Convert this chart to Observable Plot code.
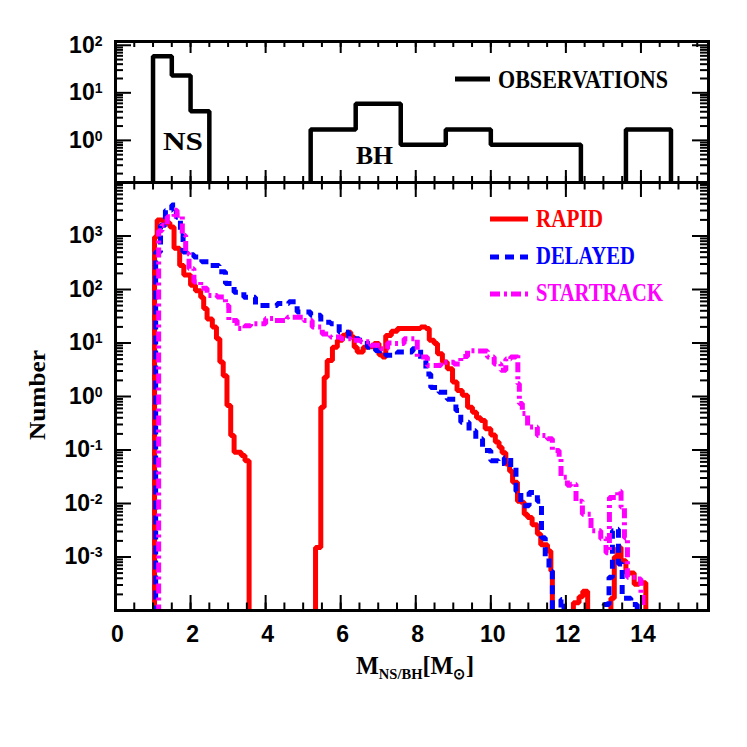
<!DOCTYPE html>
<html><head><meta charset="utf-8">
<script src="https://cdn.jsdelivr.net/npm/d3@7"></script>
<script src="https://cdn.jsdelivr.net/npm/@observablehq/plot@0.6"></script>
<style>
html,body{margin:0;padding:0;background:#fff;}
#chart{position:relative;width:747px;height:747px;background:#fff;}
#chart svg{position:absolute;left:0;top:0;}
</style></head><body><div id="chart"></div>
<script>
// ---------- data (bin left edges; the last edge closes the histogram, count 0 = empty bin) ----------
const obsEdges  = [1.0, 1.5, 2.0, 2.5, 5.2, 6.4, 7.6, 8.8, 10.0, 11.2, 12.4, 13.6, 14.8];
const obsCounts = [59, 23, 4.1, 0, 1.7, 5.9, 0.81, 1.7, 0.81, 0.81, 0, 1.7, 0];

const rapidEdges = [1.04,1.11,1.29,1.45,1.56,1.71,1.82,2.00,2.13,2.27, 2.35,2.44,2.58,2.69,2.78,2.87,2.97,3.07,3.16,3.35,
  3.45,3.56,5.33,5.47,5.56,5.64,5.78,5.91,6.05,6.18, 6.27,6.36,6.44,6.60,6.71,6.89,7.02,7.11,7.20,7.35,
  7.51,7.87,8.13,8.27,8.36,8.49,8.58,8.71,8.84,8.98, 9.10,9.24,9.38,9.51,9.62,9.73,9.85,10.00,10.12,10.22,
  10.30,10.40,10.50,10.58,10.71,10.80,10.89,10.98,11.10,11.24, 11.33,11.51,11.60,11.64,12.20,12.35,12.45,12.58,13.20,13.29,
  13.38,13.47,13.60,13.82,13.95,14.13];
const rapidCounts = [955,1995,1778,1479,589,282,186,120,95,72, 44,28,20,12,4.4,2.45,0.68,0.186,0.091,0.079,
  0.063,0,0.0015,0.63,2.3,4.7,8.3,11.2,14,15.8, 12.9,8.3,6.8,8.3,8.5,9.8,6.0,5.5,13.8,16.6,
  18.6,18.6,20,18.6,11.2,9.8,6.3,4.4,3.3,1.86, 1.29,1.05,0.63,0.51,0.40,0.355,0.25,0.19,0.141,0.112,
  0.089,0.055,0.040,0.025,0.011,0.0105,0.0063,0.0055,0.004,0.0027, 0.0017,0.0013,0.00055,0,0.00014,0.00018,0.00023,0,0.00017,0.001,
  0.0015,0.00085,0.0005,0.00031,0.00033,0];

const delayedEdges = [1.07,1.20,1.33,1.50,1.62,1.73,1.80,1.90,2.09,2.30, 2.49,2.76,2.93,3.16,3.42,3.73,4.00,4.31,4.62,4.84,
  5.20,5.47,5.73,5.96,6.22,6.49,6.71,6.93,7.20,7.51, 7.91,8.13,8.27,8.40,8.62,8.84,9.07,9.20,9.42,9.60,
  9.78,10.00,10.20,10.36,10.53,10.67,10.80,11.02,11.24,11.35, 11.45,11.55,11.64,11.87,11.95,13.02,13.15,13.24,13.33,13.40,
  13.50,13.73,13.90];
const delayedCounts = [501,1585,3020,3802,2239,1023,501,447,407,331, 282,214,129,89,72,50,50,55,59,38,
  33,24.5,22.9,15.8,12,11.2,8.3,7.2,5.9,6.8, 7.8,4.7,2.63,1.48,1.2,0.89,0.55,0.33,0.23,0.162,
  0.098,0.063,0.056,0.072,0.048,0.017,0.0091,0.016,0.011,0.0023, 0.001,0.00055,0,0.00016,0,0.00013,0.00042,0.0031,0.0033,0.00074,
  0.00017,0.00013,0];

const startrackEdges = [1.15,1.24,1.38,1.56,1.64,1.78,1.87,1.96,2.09,2.27, 2.44,2.71,2.93,3.02,3.24,3.45,3.60,4.00,4.22,4.58,
  4.84,5.02,5.24,5.51,5.73,6.00,6.27,6.53,6.80,7.07, 7.25,7.42,7.69,8.04,8.31,8.67,9.02,9.20,9.38,9.65,
  9.91,10.09,10.27,10.40,10.53,10.67,10.72,10.76,10.84,10.98, 11.24,11.51,11.64,11.82,11.87,12.04,12.13,12.27,12.44,12.67,
  12.93,13.07,13.16,13.38,13.47,13.56,13.64,13.91,14.00,14.05];
const startrackCounts = [1259,1585,2291,3020,2455,1023,468,245,138,105, 77.6,72.4,50,26.3,18.6,20.9,22.9,28.8,26.3,30.2,
  30.2,26.3,20,14.8,12.9,12,11.2,10.5,9.1,7.8, 10,9.8,12,5.5,3.8,4.37,4.07,5.6,7.2,7.1,
  5.5,4.07,3.09,5.0,5.5,6.3,1.74,0.74,0.48,0.27, 0.186,0.162,0.098,0.072,0.031,0.022,0.023,0.011,0.0063,0.0031,
  0.0022,0.0012,0.013,0.017,0.0085,0.0023,0.00042,0.00039,0.0002,0];

const xTickLabels = [0, 2, 4, 6, 8, 10, 12, 14];
const yTickLabelsTop = [1, 10, 100];
const yTickLabelsBottom = [1e-3, 1e-2, 1e-1, 1, 10, 100, 1000];

// ---------- helpers ----------
function histPoints(edges, counts, floor) {
  const pts = [{x: edges[0], v: floor}];
  edges.forEach((e, i) => pts.push({x: e, v: counts[i] > 0 ? counts[i] : floor}));
  return pts;
}
function logTicks(lo, hi) {
  const major = [], minor = [];
  for (let e = Math.floor(Math.log10(lo)); e <= Math.ceil(Math.log10(hi)); e++) {
    for (let k = 1; k <= 9; k++) {
      const v = k * Math.pow(10, e);
      if (v < lo * 0.999 || v > hi * 1.001) continue;
      (k === 1 ? major : minor).push(v);
    }
  }
  return {major, minor};
}
function frameTicks(xDomain, yDomain, innerW, innerH, xLen, yLen) {
  const xMajor = d3.range(xDomain[0], xDomain[1] + 1e-9, 2);
  const xMinor = d3.range(xDomain[0], xDomain[1] + 1e-9, 0.5);
  const {major: yMajor, minor: yMinor} = logTicks(yDomain[0], yDomain[1]);
  const s = {stroke: "black", strokeWidth: 2};
  return [
    Plot.ruleX(xMinor, {...s, insetTop: innerH - xLen[1]}),
    Plot.ruleX(xMinor, {...s, insetBottom: innerH - xLen[1]}),
    Plot.ruleX(xMajor, {...s, insetTop: innerH - xLen[0]}),
    Plot.ruleX(xMajor, {...s, insetBottom: innerH - xLen[0]}),
    Plot.ruleY(yMinor, {...s, insetRight: innerW - yLen[1]}),
    Plot.ruleY(yMinor, {...s, insetLeft: innerW - yLen[1]}),
    Plot.ruleY(yMajor, {...s, insetRight: innerW - yLen[0]}),
    Plot.ruleY(yMajor, {...s, insetLeft: innerW - yLen[0]})
  ];
}
const NS = "http://www.w3.org/2000/svg";
function superscripts(svg) {
  svg.querySelectorAll('g[aria-label="y-axis tick label"] text').forEach(t => {
    const e = t.textContent;
    t.textContent = "";
    const a = document.createElementNS(NS, "tspan"); a.textContent = "10";
    const b = document.createElementNS(NS, "tspan"); b.textContent = e;
    b.setAttribute("dy", "-7"); b.setAttribute("font-size", "14px");
    t.append(a, b);
  });
}

// ---------- layout ----------
const W = 747, L = 115, R = 39;
const X_DOMAIN = [0, 15.8];
const TOP = {top: 41, bottom: 182, domain: [0.13, 120]};
const BOT = {top: 182, bottom: 610, domain: [1e-4, 1e4]};
const innerW = W - L - R;
const fontStyle = {background: "transparent", fontFamily: "Liberation Sans", fontSize: "23px", fontWeight: "bold", color: "black"};
const axisFont = {fontFamily: "Liberation Sans", fontSize: 23, fontWeight: "bold"};

const topPlot = Plot.plot({
  width: W, height: W,
  marginLeft: L, marginRight: R, marginTop: TOP.top, marginBottom: W - TOP.bottom,
  style: fontStyle,
  x: {domain: X_DOMAIN, label: null, axis: null},
  y: {type: "log", domain: TOP.domain, label: null},
  marks: [
    Plot.line(histPoints(obsEdges, obsCounts, 1e-3), {x: "x", y: "v", curve: "step-after", stroke: "black", strokeWidth: 4.5, strokeLinejoin: "miter", strokeLinecap: "butt", clip: true}),
    ...frameTicks(X_DOMAIN, TOP.domain, innerW, TOP.bottom - TOP.top, [12, 6], [16, 8]),
    Plot.frame({stroke: "black", strokeWidth: 3}),
    Plot.axisY({ticks: yTickLabelsTop, tickSize: 0, tickPadding: 13, label: null, tickFormat: d => String(Math.round(Math.log10(d))), ...axisFont})
  ]
});

const lineOpts = {x: "x", y: "v", curve: "step-after", strokeWidth: 5, strokeLinejoin: "miter", strokeLinecap: "butt", clip: true};
const botPlot = Plot.plot({
  width: W, height: W,
  marginLeft: L, marginRight: R, marginTop: BOT.top, marginBottom: W - BOT.bottom,
  style: fontStyle,
  x: {domain: X_DOMAIN, label: null},
  y: {type: "log", domain: BOT.domain, label: null},
  marks: [
    Plot.line(histPoints(rapidEdges, rapidCounts, 1e-8), {...lineOpts, stroke: "#ff0000"}),
    Plot.line(histPoints(delayedEdges, delayedCounts, 1e-8), {...lineOpts, stroke: "#0000ff", strokeDasharray: "9,6"}),
    Plot.line(histPoints(startrackEdges, startrackCounts, 1e-8), {...lineOpts, stroke: "#ff00ff", strokeDasharray: "10,4,3,4"}),
    ...frameTicks(X_DOMAIN, BOT.domain, innerW, BOT.bottom - BOT.top, [15, 7.5], [16, 8]),
    Plot.frame({stroke: "black", strokeWidth: 3}),
    Plot.axisX({ticks: xTickLabels, tickSize: 0, tickPadding: 15, dx: 2, label: null, ...axisFont}),
    Plot.axisY({ticks: yTickLabelsBottom, tickSize: 0, tickPadding: 13, label: null, tickFormat: d => String(Math.round(Math.log10(d))), ...axisFont})
  ]
});
superscripts(topPlot);
superscripts(botPlot);

const chart = document.getElementById("chart");
chart.append(topPlot, botPlot);

// ---------- text, annotations and legends ----------
const overlay = document.createElementNS(NS, "svg");
overlay.setAttribute("width", W); overlay.setAttribute("height", W);
overlay.setAttribute("font-family", "Liberation Serif");
overlay.setAttribute("font-weight", "bold");
overlay.innerHTML = `
<line x1="455" x2="490" y1="79" y2="79" stroke="black" stroke-width="5"/>
<text x="498" y="88" font-size="25" textLength="170" lengthAdjust="spacingAndGlyphs">OBSERVATIONS</text>
<text x="163" y="150" font-size="26" textLength="40" lengthAdjust="spacingAndGlyphs">NS</text>
<text x="356" y="164" font-size="26" textLength="37" lengthAdjust="spacingAndGlyphs">BH</text>
<line x1="490" x2="528" y1="219" y2="219" stroke="#ff0000" stroke-width="5"/>
<text x="536" y="227" font-size="25" fill="#ff0000" textLength="67" lengthAdjust="spacingAndGlyphs">RAPID</text>
<line x1="490" x2="528" y1="257" y2="257" stroke="#0000ff" stroke-width="5" stroke-dasharray="9,6"/>
<text x="536" y="264" font-size="25" fill="#0000ff" textLength="99" lengthAdjust="spacingAndGlyphs">DELAYED</text>
<line x1="490" x2="528" y1="294" y2="294" stroke="#ff00ff" stroke-width="5" stroke-dasharray="10,4,3,4"/>
<text x="536" y="301" font-size="25" fill="#ff00ff" textLength="127" lengthAdjust="spacingAndGlyphs">STARTRACK</text>
<text transform="translate(45,395) rotate(-90)" text-anchor="middle" font-size="24" textLength="90" lengthAdjust="spacingAndGlyphs">Number</text>
<text x="356" y="674" font-size="25" textLength="118" lengthAdjust="spacingAndGlyphs"><tspan>M</tspan><tspan font-size="15" dy="5">NS/BH</tspan><tspan dy="-5">[M</tspan><tspan font-size="15" dy="5">⊙</tspan><tspan dy="-5">]</tspan></text>
`;
chart.append(overlay);
</script>
</body></html>
